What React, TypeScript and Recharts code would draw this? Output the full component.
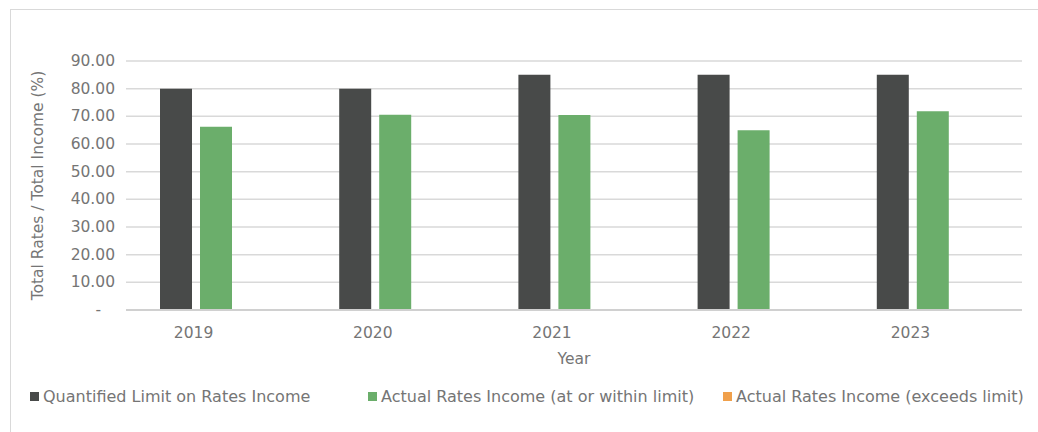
import React from "react";
import { BarChart, Bar, XAxis, YAxis, CartesianGrid } from "recharts";

const years = ["2019", "2020", "2021", "2022", "2023"];
const limitValues = [80, 80, 85, 85, 85];
const withinValues = [66.2, 70.6, 70.5, 65.0, 71.8];
const exceedsValues: (number | null)[] = [null, null, null, null, null];
const yTicks = [0, 10, 20, 30, 40, 50, 60, 70, 80, 90];

const SERIES = [
  { key: "limit", name: "Quantified Limit on Rates Income", color: "#484a49" },
  { key: "within", name: "Actual Rates Income (at or within limit)", color: "#6bae6b" },
  { key: "exceeds", name: "Actual Rates Income (exceeds limit)", color: "#f0a04b" },
];

const FONT = "'DejaVu Sans', sans-serif";
const TEXT = "#757575";

const data = years.map((y, i) => ({
  year: y,
  limit: limitValues[i],
  within: withinValues[i],
  exceeds: exceedsValues[i],
}));

const YTick = ({ x, y, payload }: any) => (
  <text
    x={x}
    y={y}
    dx={payload.value === 0 ? -14 : 0}
    dy={5}
    textAnchor="end"
    fill={TEXT}
    fontSize={15.5}
    fontFamily={FONT}
  >
    {payload.value === 0 ? "-" : payload.value.toFixed(2)}
  </text>
);

const XTick = ({ x, y, payload }: any) => (
  <text x={x - 22} y={y} dy={20} textAnchor="middle" fill={TEXT} fontSize={15.5} fontFamily={FONT}>
    {payload.value}
  </text>
);

const YTitle = ({ viewBox }: any) => {
  const cx = viewBox.x + 12;
  const cy = viewBox.y + viewBox.height / 2;
  return (
    <text
      x={cx}
      y={cy}
      transform={`rotate(-90, ${cx}, ${cy})`}
      textAnchor="middle"
      dominantBaseline="central"
      fill={TEXT}
      fontSize={15.5}
      fontFamily={FONT}
    >
      Total Rates / Total Income (%)
    </text>
  );
};

const XTitle = ({ viewBox }: any) => (
  <text
    x={viewBox.x + viewBox.width / 2}
    y={viewBox.y + 54}
    textAnchor="middle"
    fill={TEXT}
    fontSize={15.5}
    fontFamily={FONT}
  >
    Year
  </text>
);

const legendLefts = [30, 368, 723];

export default function App() {
  return (
    <div
      style={{
        position: "fixed", left: 0, top: 0, width: 1038, height: 432,
        overflow: "hidden", background: "#fff",
      }}
    >
      <div
        style={{
          position: "absolute", left: 10, top: 9, width: 1100, height: 500,
          border: "1px solid #d9d9d9",
        }}
      />
      <div style={{ position: "absolute", left: 0, top: 0 }}>
        <BarChart
          width={1038}
          height={380}
          data={data}
          margin={{ top: 61, right: 16, left: 26, bottom: 8 }}
          barSize={32}
          barGap={8}
        >
          <CartesianGrid vertical={false} stroke="#d9d9d9" strokeWidth={1.5} />
          <XAxis
            dataKey="year"
            height={62}
            tick={<XTick />}
            tickLine={false}
            axisLine={{ stroke: "#d0d0d0", strokeWidth: 2 }}
            label={<XTitle />}
          />
          <YAxis
            width={100}
            domain={[0, 90]}
            ticks={yTicks}
            interval={0}
            tick={<YTick />}
            tickLine={false}
            axisLine={false}
            tickSize={0}
            tickMargin={11}
            label={<YTitle />}
          />
          {SERIES.map((s) => (
            <Bar
              key={s.key}
              dataKey={s.key}
              name={s.name}
              fill={s.color}
              isAnimationActive={false}
            />
          ))}
        </BarChart>
      </div>
      {SERIES.map((s, i) => (
        <div
          key={s.key}
          style={{
            position: "absolute", left: legendLefts[i], top: 387,
            display: "flex", alignItems: "center", gap: 4,
            fontFamily: FONT, fontSize: 16, color: TEXT, whiteSpace: "nowrap",
          }}
        >
          <span style={{ width: 9, height: 9, background: s.color, display: "inline-block" }} />
          <span>{s.name}</span>
        </div>
      ))}
    </div>
  );
}
